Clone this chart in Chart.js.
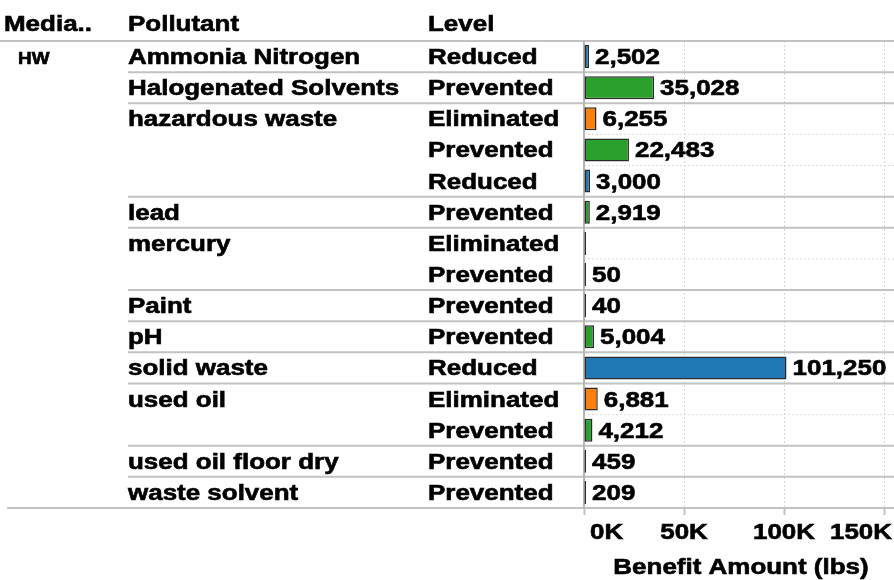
<!DOCTYPE html>
<html>
<head>
<meta charset="utf-8">
<script src="https://cdn.jsdelivr.net/npm/chart.js@4/dist/chart.umd.min.js"></script>
<style>
  html, body { margin: 0; padding: 0; background: #fff; }
  #wrap { width: 894px; height: 580px; }
</style>
</head>
<body>
<div id="wrap"><canvas id="chart" width="894" height="580"></canvas></div>
<script>
// Table data, one entry per row (empty pollutant = same group as above)
const mediaLabel = 'HW';
const headers = ['Media..', 'Pollutant', 'Level'];
const pollutants = ['Ammonia Nitrogen', 'Halogenated Solvents', 'hazardous waste', '', '', 'lead', 'mercury', '', 'Paint', 'pH', 'solid waste', 'used oil', '', 'used oil floor dry', 'waste solvent'];
const levels = ['Reduced', 'Prevented', 'Eliminated', 'Prevented', 'Reduced', 'Prevented', 'Eliminated', 'Prevented', 'Prevented', 'Prevented', 'Reduced', 'Eliminated', 'Prevented', 'Prevented', 'Prevented'];
const amounts = [2502, 35028, 6255, 22483, 3000, 2919, 5, 50, 40, 5004, 101250, 6881, 4212, 459, 209];
const hiddenLabels = [6]; // mercury / Eliminated shows no number
const tickValues = [0, 50000, 100000, 150000];
const tickLabels = ['0K', '50K', '100K', '150K'];
const axisTitle = 'Benefit Amount (lbs)';
const levelColors = { Reduced: '#1f77b4', Prevented: '#2ca02c', Eliminated: '#ff7f0e' };

const SX = 1.18; // text in the picture is drawn a bit wide
const FONT = '"Liberation Sans", Arial, sans-serif';
const LINE = '#c2c2c2';

function wideText(ctx, text, x, y, align, size) {
    ctx.save();
    ctx.font = 'bold ' + size + 'px ' + FONT;
    const w = ctx.measureText(text).width * SX;
    let x0 = x;
    if (align === 'center') x0 = x - w / 2;
    if (align === 'right') x0 = x - w;
    ctx.translate(x0, y);
    ctx.scale(SX, 1);
    ctx.fillStyle = '#000';
    ctx.strokeStyle = '#000';
    ctx.lineWidth = 0.6;
    ctx.textAlign = 'left';
    ctx.textBaseline = 'alphabetic';
    ctx.fillText(text, 0, 0);
    ctx.strokeText(text, 0, 0); // heavier strokes like the original
    ctx.restore();
    return w;
}

function hline(ctx, x1, x2, y, color, width, dash) {
    ctx.save();
    ctx.strokeStyle = color;
    ctx.lineWidth = width;
    ctx.setLineDash(dash || []);
    ctx.beginPath();
    ctx.moveTo(x1, y);
    ctx.lineTo(x2, y);
    ctx.stroke();
    ctx.restore();
}

const tablePlugin = {
    id: 'table',
    beforeDatasetsDraw(chart) {
        const ctx = chart.ctx;
        const y = chart.scales.y;
        const area = chart.chartArea;
        const W = chart.width;

        // header rule and bottom rule
        hline(ctx, 0, W, area.top, LINE, 2);
        hline(ctx, 7, W, area.bottom, LINE, 2);

        // row boundaries: solid between pollutant groups, dotted inside a group
        for (let i = 0; i < levels.length - 1; i++) {
            const yy = (y.getPixelForValue(i) + y.getPixelForValue(i + 1)) / 2;
            if (pollutants[i + 1] !== '') {
                hline(ctx, 128, W, yy, LINE, 2);
            } else {
                hline(ctx, area.left, W, yy, '#dadada', 1, [2, 2]);
            }
        }

        // solid zero line
        ctx.save();
        ctx.strokeStyle = '#b5b5b5';
        ctx.lineWidth = 2;
        ctx.beginPath();
        ctx.moveTo(area.left, area.top);
        ctx.lineTo(area.left, area.bottom);
        ctx.stroke();
        ctx.restore();
    },
    afterDraw(chart) {
        const ctx = chart.ctx;
        const x = chart.scales.x;
        const y = chart.scales.y;
        const area = chart.chartArea;

        // column headers
        wideText(ctx, headers[0], 4, 31, 'left', 22);
        wideText(ctx, headers[1], 128, 31, 'left', 22);
        wideText(ctx, headers[2], 428, 31, 'left', 22);

        // row labels
        wideText(ctx, mediaLabel, 18, y.getPixelForValue(0) + 7, 'left', 16);
        levels.forEach((lvl, i) => {
            const base = y.getPixelForValue(i) + 7.5;
            if (pollutants[i]) wideText(ctx, pollutants[i], 128, base, 'left', 22);
            wideText(ctx, lvl, 428, base, 'left', 22);
        });

        // value labels at bar ends
        const meta = chart.getDatasetMeta(0);
        meta.data.forEach((bar, i) => {
            if (hiddenLabels.includes(i)) return;
            wideText(ctx, amounts[i].toLocaleString('en-US'), bar.x + 6, bar.y + 7.5, 'left', 22);
        });

        // tick labels, kept inside the plot width like the original
        tickValues.forEach((v, i) => {
            ctx.save();
            ctx.font = 'bold 22px ' + FONT;
            const w = ctx.measureText(tickLabels[i]).width * SX;
            ctx.restore();
            let left = x.getPixelForValue(v) - w / 2;
            left = Math.max(left, area.left + 6);
            left = Math.min(left, chart.width - 2 - w);
            wideText(ctx, tickLabels[i], left, 539, 'left', 22);
        });

        // axis title
        wideText(ctx, axisTitle, (area.left + area.right) / 2 + 2, 574, 'center', 22);
    }
};

new Chart(document.getElementById('chart'), {
    type: 'bar',
    data: {
        labels: levels,
        datasets: [{
            data: amounts,
            backgroundColor: levels.map(l => levelColors[l]),
            borderColor: '#2a2a2a',
            borderWidth: 1.5,
            borderSkipped: false,
            minBarLength: 2,
            categoryPercentage: 0.74,
            barPercentage: 1
        }]
    },
    options: {
        indexAxis: 'y',
        responsive: false,
        animation: false,
        devicePixelRatio: 1,
        layout: { padding: { top: 41, left: 0, right: 0, bottom: 0 } },
        plugins: {
            legend: { display: false },
            tooltip: { enabled: false }
        },
        scales: {
            x: {
                position: 'bottom',
                min: 0,
                max: 155000,
                afterBuildTicks: s => { s.ticks = tickValues.map(v => ({ value: v })); },
                afterFit: s => { s.height = 72; },
                ticks: { display: false },
                grid: {
                    display: true,
                    color: c => (c.index === 0 ? 'rgba(0,0,0,0)' : '#d6d6d6'),
                    lineWidth: 1,
                    drawTicks: true,
                    tickLength: 7,
                    tickColor: LINE,
                    tickWidth: 2
                },
                border: { display: false, dash: [2, 2] }
            },
            y: {
                afterFit: s => { s.width = 584; },
                ticks: { display: false },
                grid: { display: false },
                border: { display: false }
            }
        }
    },
    plugins: [tablePlugin]
});
</script>
</body>
</html>
